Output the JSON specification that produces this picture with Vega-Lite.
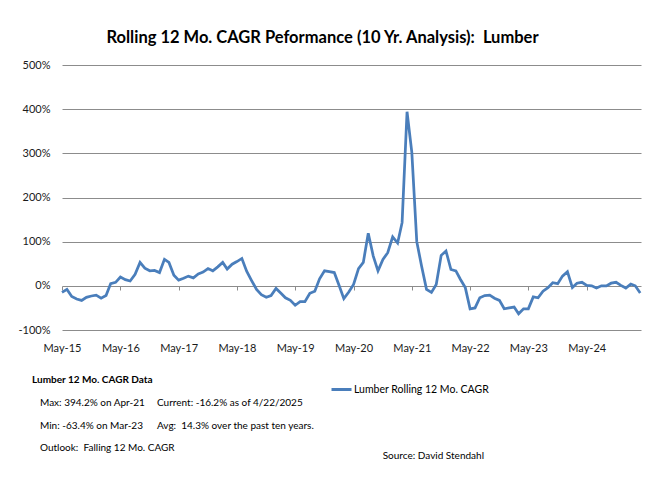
{
  "$schema": "https://vega.github.io/schema/vega-lite/v6.json",
  "autosize": {"type": "none"},
  "padding": {"left": 62, "top": 65, "right": 31, "bottom": 150},
  "width": 579,
  "height": 265,
  "background": "white",
  "title": {"text": "Rolling 12 Mo. CAGR Peformance (10 Yr. Analysis):\u00a0 Lumber", "anchor": "middle", "dx": -29, "offset": 13, "fontSize": 16.5, "font": "Lato", "fontWeight": "bold", "color": "black"},
  "datasets": {
    "cagr": [
      {"month": "2015-05-01T00:00:00", "cagr": -15, "series": "Lumber Rolling 12 Mo. CAGR"},
      {"month": "2015-06-01T00:00:00", "cagr": -8, "series": "Lumber Rolling 12 Mo. CAGR"},
      {"month": "2015-07-01T00:00:00", "cagr": -24, "series": "Lumber Rolling 12 Mo. CAGR"},
      {"month": "2015-08-01T00:00:00", "cagr": -30, "series": "Lumber Rolling 12 Mo. CAGR"},
      {"month": "2015-09-01T00:00:00", "cagr": -33, "series": "Lumber Rolling 12 Mo. CAGR"},
      {"month": "2015-10-01T00:00:00", "cagr": -26, "series": "Lumber Rolling 12 Mo. CAGR"},
      {"month": "2015-11-01T00:00:00", "cagr": -23, "series": "Lumber Rolling 12 Mo. CAGR"},
      {"month": "2015-12-01T00:00:00", "cagr": -21, "series": "Lumber Rolling 12 Mo. CAGR"},
      {"month": "2016-01-01T00:00:00", "cagr": -28, "series": "Lumber Rolling 12 Mo. CAGR"},
      {"month": "2016-02-01T00:00:00", "cagr": -22, "series": "Lumber Rolling 12 Mo. CAGR"},
      {"month": "2016-03-01T00:00:00", "cagr": 5, "series": "Lumber Rolling 12 Mo. CAGR"},
      {"month": "2016-04-01T00:00:00", "cagr": 8, "series": "Lumber Rolling 12 Mo. CAGR"},
      {"month": "2016-05-01T00:00:00", "cagr": 20, "series": "Lumber Rolling 12 Mo. CAGR"},
      {"month": "2016-06-01T00:00:00", "cagr": 14, "series": "Lumber Rolling 12 Mo. CAGR"},
      {"month": "2016-07-01T00:00:00", "cagr": 11, "series": "Lumber Rolling 12 Mo. CAGR"},
      {"month": "2016-08-01T00:00:00", "cagr": 26, "series": "Lumber Rolling 12 Mo. CAGR"},
      {"month": "2016-09-01T00:00:00", "cagr": 53, "series": "Lumber Rolling 12 Mo. CAGR"},
      {"month": "2016-10-01T00:00:00", "cagr": 40, "series": "Lumber Rolling 12 Mo. CAGR"},
      {"month": "2016-11-01T00:00:00", "cagr": 34, "series": "Lumber Rolling 12 Mo. CAGR"},
      {"month": "2016-12-01T00:00:00", "cagr": 35, "series": "Lumber Rolling 12 Mo. CAGR"},
      {"month": "2017-01-01T00:00:00", "cagr": 30, "series": "Lumber Rolling 12 Mo. CAGR"},
      {"month": "2017-02-01T00:00:00", "cagr": 60, "series": "Lumber Rolling 12 Mo. CAGR"},
      {"month": "2017-03-01T00:00:00", "cagr": 53, "series": "Lumber Rolling 12 Mo. CAGR"},
      {"month": "2017-04-01T00:00:00", "cagr": 24, "series": "Lumber Rolling 12 Mo. CAGR"},
      {"month": "2017-05-01T00:00:00", "cagr": 13, "series": "Lumber Rolling 12 Mo. CAGR"},
      {"month": "2017-06-01T00:00:00", "cagr": 17, "series": "Lumber Rolling 12 Mo. CAGR"},
      {"month": "2017-07-01T00:00:00", "cagr": 22, "series": "Lumber Rolling 12 Mo. CAGR"},
      {"month": "2017-08-01T00:00:00", "cagr": 18, "series": "Lumber Rolling 12 Mo. CAGR"},
      {"month": "2017-09-01T00:00:00", "cagr": 27, "series": "Lumber Rolling 12 Mo. CAGR"},
      {"month": "2017-10-01T00:00:00", "cagr": 31, "series": "Lumber Rolling 12 Mo. CAGR"},
      {"month": "2017-11-01T00:00:00", "cagr": 39, "series": "Lumber Rolling 12 Mo. CAGR"},
      {"month": "2017-12-01T00:00:00", "cagr": 34, "series": "Lumber Rolling 12 Mo. CAGR"},
      {"month": "2018-01-01T00:00:00", "cagr": 43, "series": "Lumber Rolling 12 Mo. CAGR"},
      {"month": "2018-02-01T00:00:00", "cagr": 53, "series": "Lumber Rolling 12 Mo. CAGR"},
      {"month": "2018-03-01T00:00:00", "cagr": 38, "series": "Lumber Rolling 12 Mo. CAGR"},
      {"month": "2018-04-01T00:00:00", "cagr": 49, "series": "Lumber Rolling 12 Mo. CAGR"},
      {"month": "2018-05-01T00:00:00", "cagr": 55, "series": "Lumber Rolling 12 Mo. CAGR"},
      {"month": "2018-06-01T00:00:00", "cagr": 62, "series": "Lumber Rolling 12 Mo. CAGR"},
      {"month": "2018-07-01T00:00:00", "cagr": 33, "series": "Lumber Rolling 12 Mo. CAGR"},
      {"month": "2018-08-01T00:00:00", "cagr": 12, "series": "Lumber Rolling 12 Mo. CAGR"},
      {"month": "2018-09-01T00:00:00", "cagr": -8, "series": "Lumber Rolling 12 Mo. CAGR"},
      {"month": "2018-10-01T00:00:00", "cagr": -20, "series": "Lumber Rolling 12 Mo. CAGR"},
      {"month": "2018-11-01T00:00:00", "cagr": -26, "series": "Lumber Rolling 12 Mo. CAGR"},
      {"month": "2018-12-01T00:00:00", "cagr": -22, "series": "Lumber Rolling 12 Mo. CAGR"},
      {"month": "2019-01-01T00:00:00", "cagr": -6, "series": "Lumber Rolling 12 Mo. CAGR"},
      {"month": "2019-02-01T00:00:00", "cagr": -17, "series": "Lumber Rolling 12 Mo. CAGR"},
      {"month": "2019-03-01T00:00:00", "cagr": -27, "series": "Lumber Rolling 12 Mo. CAGR"},
      {"month": "2019-04-01T00:00:00", "cagr": -33, "series": "Lumber Rolling 12 Mo. CAGR"},
      {"month": "2019-05-01T00:00:00", "cagr": -44, "series": "Lumber Rolling 12 Mo. CAGR"},
      {"month": "2019-06-01T00:00:00", "cagr": -36, "series": "Lumber Rolling 12 Mo. CAGR"},
      {"month": "2019-07-01T00:00:00", "cagr": -36, "series": "Lumber Rolling 12 Mo. CAGR"},
      {"month": "2019-08-01T00:00:00", "cagr": -17, "series": "Lumber Rolling 12 Mo. CAGR"},
      {"month": "2019-09-01T00:00:00", "cagr": -12, "series": "Lumber Rolling 12 Mo. CAGR"},
      {"month": "2019-10-01T00:00:00", "cagr": 16, "series": "Lumber Rolling 12 Mo. CAGR"},
      {"month": "2019-11-01T00:00:00", "cagr": 34, "series": "Lumber Rolling 12 Mo. CAGR"},
      {"month": "2019-12-01T00:00:00", "cagr": 32, "series": "Lumber Rolling 12 Mo. CAGR"},
      {"month": "2020-01-01T00:00:00", "cagr": 30, "series": "Lumber Rolling 12 Mo. CAGR"},
      {"month": "2020-02-01T00:00:00", "cagr": 0, "series": "Lumber Rolling 12 Mo. CAGR"},
      {"month": "2020-03-01T00:00:00", "cagr": -29, "series": "Lumber Rolling 12 Mo. CAGR"},
      {"month": "2020-04-01T00:00:00", "cagr": -14, "series": "Lumber Rolling 12 Mo. CAGR"},
      {"month": "2020-05-01T00:00:00", "cagr": 3, "series": "Lumber Rolling 12 Mo. CAGR"},
      {"month": "2020-06-01T00:00:00", "cagr": 39, "series": "Lumber Rolling 12 Mo. CAGR"},
      {"month": "2020-07-01T00:00:00", "cagr": 53, "series": "Lumber Rolling 12 Mo. CAGR"},
      {"month": "2020-08-01T00:00:00", "cagr": 119, "series": "Lumber Rolling 12 Mo. CAGR"},
      {"month": "2020-09-01T00:00:00", "cagr": 68, "series": "Lumber Rolling 12 Mo. CAGR"},
      {"month": "2020-10-01T00:00:00", "cagr": 34, "series": "Lumber Rolling 12 Mo. CAGR"},
      {"month": "2020-11-01T00:00:00", "cagr": 60, "series": "Lumber Rolling 12 Mo. CAGR"},
      {"month": "2020-12-01T00:00:00", "cagr": 75, "series": "Lumber Rolling 12 Mo. CAGR"},
      {"month": "2021-01-01T00:00:00", "cagr": 111, "series": "Lumber Rolling 12 Mo. CAGR"},
      {"month": "2021-02-01T00:00:00", "cagr": 97, "series": "Lumber Rolling 12 Mo. CAGR"},
      {"month": "2021-03-01T00:00:00", "cagr": 143, "series": "Lumber Rolling 12 Mo. CAGR"},
      {"month": "2021-04-01T00:00:00", "cagr": 394.2, "series": "Lumber Rolling 12 Mo. CAGR"},
      {"month": "2021-05-01T00:00:00", "cagr": 302, "series": "Lumber Rolling 12 Mo. CAGR"},
      {"month": "2021-06-01T00:00:00", "cagr": 100, "series": "Lumber Rolling 12 Mo. CAGR"},
      {"month": "2021-07-01T00:00:00", "cagr": 45, "series": "Lumber Rolling 12 Mo. CAGR"},
      {"month": "2021-08-01T00:00:00", "cagr": -8, "series": "Lumber Rolling 12 Mo. CAGR"},
      {"month": "2021-09-01T00:00:00", "cagr": -15, "series": "Lumber Rolling 12 Mo. CAGR"},
      {"month": "2021-10-01T00:00:00", "cagr": 3, "series": "Lumber Rolling 12 Mo. CAGR"},
      {"month": "2021-11-01T00:00:00", "cagr": 69, "series": "Lumber Rolling 12 Mo. CAGR"},
      {"month": "2021-12-01T00:00:00", "cagr": 79, "series": "Lumber Rolling 12 Mo. CAGR"},
      {"month": "2022-01-01T00:00:00", "cagr": 37, "series": "Lumber Rolling 12 Mo. CAGR"},
      {"month": "2022-02-01T00:00:00", "cagr": 34, "series": "Lumber Rolling 12 Mo. CAGR"},
      {"month": "2022-03-01T00:00:00", "cagr": 15, "series": "Lumber Rolling 12 Mo. CAGR"},
      {"month": "2022-04-01T00:00:00", "cagr": -4, "series": "Lumber Rolling 12 Mo. CAGR"},
      {"month": "2022-05-01T00:00:00", "cagr": -52, "series": "Lumber Rolling 12 Mo. CAGR"},
      {"month": "2022-06-01T00:00:00", "cagr": -50, "series": "Lumber Rolling 12 Mo. CAGR"},
      {"month": "2022-07-01T00:00:00", "cagr": -27, "series": "Lumber Rolling 12 Mo. CAGR"},
      {"month": "2022-08-01T00:00:00", "cagr": -22, "series": "Lumber Rolling 12 Mo. CAGR"},
      {"month": "2022-09-01T00:00:00", "cagr": -21, "series": "Lumber Rolling 12 Mo. CAGR"},
      {"month": "2022-10-01T00:00:00", "cagr": -28, "series": "Lumber Rolling 12 Mo. CAGR"},
      {"month": "2022-11-01T00:00:00", "cagr": -33, "series": "Lumber Rolling 12 Mo. CAGR"},
      {"month": "2022-12-01T00:00:00", "cagr": -52, "series": "Lumber Rolling 12 Mo. CAGR"},
      {"month": "2023-01-01T00:00:00", "cagr": -50, "series": "Lumber Rolling 12 Mo. CAGR"},
      {"month": "2023-02-01T00:00:00", "cagr": -48, "series": "Lumber Rolling 12 Mo. CAGR"},
      {"month": "2023-03-01T00:00:00", "cagr": -63.4, "series": "Lumber Rolling 12 Mo. CAGR"},
      {"month": "2023-04-01T00:00:00", "cagr": -52, "series": "Lumber Rolling 12 Mo. CAGR"},
      {"month": "2023-05-01T00:00:00", "cagr": -52, "series": "Lumber Rolling 12 Mo. CAGR"},
      {"month": "2023-06-01T00:00:00", "cagr": -25, "series": "Lumber Rolling 12 Mo. CAGR"},
      {"month": "2023-07-01T00:00:00", "cagr": -27, "series": "Lumber Rolling 12 Mo. CAGR"},
      {"month": "2023-08-01T00:00:00", "cagr": -12, "series": "Lumber Rolling 12 Mo. CAGR"},
      {"month": "2023-09-01T00:00:00", "cagr": -4, "series": "Lumber Rolling 12 Mo. CAGR"},
      {"month": "2023-10-01T00:00:00", "cagr": 7, "series": "Lumber Rolling 12 Mo. CAGR"},
      {"month": "2023-11-01T00:00:00", "cagr": 5, "series": "Lumber Rolling 12 Mo. CAGR"},
      {"month": "2023-12-01T00:00:00", "cagr": 22, "series": "Lumber Rolling 12 Mo. CAGR"},
      {"month": "2024-01-01T00:00:00", "cagr": 32, "series": "Lumber Rolling 12 Mo. CAGR"},
      {"month": "2024-02-01T00:00:00", "cagr": -4, "series": "Lumber Rolling 12 Mo. CAGR"},
      {"month": "2024-03-01T00:00:00", "cagr": 6, "series": "Lumber Rolling 12 Mo. CAGR"},
      {"month": "2024-04-01T00:00:00", "cagr": 8, "series": "Lumber Rolling 12 Mo. CAGR"},
      {"month": "2024-05-01T00:00:00", "cagr": 1, "series": "Lumber Rolling 12 Mo. CAGR"},
      {"month": "2024-06-01T00:00:00", "cagr": 0, "series": "Lumber Rolling 12 Mo. CAGR"},
      {"month": "2024-07-01T00:00:00", "cagr": -5, "series": "Lumber Rolling 12 Mo. CAGR"},
      {"month": "2024-08-01T00:00:00", "cagr": 0, "series": "Lumber Rolling 12 Mo. CAGR"},
      {"month": "2024-09-01T00:00:00", "cagr": 0, "series": "Lumber Rolling 12 Mo. CAGR"},
      {"month": "2024-10-01T00:00:00", "cagr": 6, "series": "Lumber Rolling 12 Mo. CAGR"},
      {"month": "2024-11-01T00:00:00", "cagr": 8, "series": "Lumber Rolling 12 Mo. CAGR"},
      {"month": "2024-12-01T00:00:00", "cagr": 1, "series": "Lumber Rolling 12 Mo. CAGR"},
      {"month": "2025-01-01T00:00:00", "cagr": -5, "series": "Lumber Rolling 12 Mo. CAGR"},
      {"month": "2025-02-01T00:00:00", "cagr": 4, "series": "Lumber Rolling 12 Mo. CAGR"},
      {"month": "2025-03-01T00:00:00", "cagr": 0, "series": "Lumber Rolling 12 Mo. CAGR"},
      {"month": "2025-04-01T00:00:00", "cagr": -16.2, "series": "Lumber Rolling 12 Mo. CAGR"}
    ],
    "notes": [
      {"line": "0", "column": "A", "part": "heading", "label": "Lumber 12 Mo. CAGR Data"},
      {"line": "1", "column": "A", "part": "body", "label": "Max: 394.2% on Apr-21"},
      {"line": "1", "column": "B", "part": "body", "label": "Current: -16.2% as of 4/22/2025"},
      {"line": "2", "column": "A", "part": "body", "label": "Min: -63.4% on Mar-23"},
      {"line": "2", "column": "B", "part": "body", "label": "Avg:\u00a0 14.3% over the past ten years."},
      {"line": "3", "column": "A", "part": "body", "label": "Outlook:\u00a0 Falling 12 Mo. CAGR"},
      {"line": "3", "column": "C", "part": "source", "label": "Source: David Stendahl"}
    ]
  },
  "layer": [
    {
      "data": {"name": "cagr"},
      "mark": {"type": "line", "strokeWidth": 2.75},
      "encoding": {
        "x": {"field": "month", "type": "temporal",
          "scale": {"domain": [{"year": 2015, "month": 5, "date": 1}, {"year": 2025, "month": 4, "date": 6}]},
          "axis": {"values": [{"year": 2015, "month": 5, "date": 1}, {"year": 2016, "month": 5, "date": 1}, {"year": 2017, "month": 5, "date": 1}, {"year": 2018, "month": 5, "date": 1}, {"year": 2019, "month": 5, "date": 1}, {"year": 2020, "month": 5, "date": 1}, {"year": 2021, "month": 5, "date": 1}, {"year": 2022, "month": 5, "date": 1}, {"year": 2023, "month": 5, "date": 1}, {"year": 2024, "month": 5, "date": 1}],
            "format": "%b-%y", "grid": false, "domain": false, "ticks": false, "labelPadding": 12, "labelFlush": false, "labelOverlap": false, "title": null}},
        "y": {"field": "cagr", "type": "quantitative",
          "scale": {"domain": [-100, 500], "nice": false, "zero": false},
          "axis": {"values": [-100, 0, 100, 200, 300, 400, 500], "labelExpr": "datum.value + '%'", "grid": true, "gridColor": "#8c8c8c", "gridWidth": 1, "domain": false, "ticks": false, "labelPadding": 12, "title": null}},
        "color": {"field": "series", "type": "nominal", "scale": {"range": ["#4a7ebb"]},
          "legend": {"orient": "none", "legendX": 268, "legendY": 313, "title": null, "symbolType": "stroke", "symbolSize": 400, "symbolStrokeWidth": 3, "labelFontSize": 10.5, "labelColor": "black", "labelOffset": 1}}
      }
    },
    {
      "data": {"name": "cagr"},
      "mark": {"type": "line", "opacity": 0},
      "encoding": {
        "x": {"field": "month", "type": "temporal",
          "scale": {"domain": [{"year": 2015, "month": 5, "date": 1}, {"year": 2025, "month": 4, "date": 6}]},
          "axis": {"orient": "bottom", "offset": -44, "values": [{"year": 2015, "month": 5, "date": 1}, {"year": 2016, "month": 5, "date": 1}, {"year": 2017, "month": 5, "date": 1}, {"year": 2018, "month": 5, "date": 1}, {"year": 2019, "month": 5, "date": 1}, {"year": 2020, "month": 5, "date": 1}, {"year": 2021, "month": 5, "date": 1}, {"year": 2022, "month": 5, "date": 1}, {"year": 2023, "month": 5, "date": 1}, {"year": 2024, "month": 5, "date": 1}],
            "labels": false, "grid": false, "domain": false, "ticks": true, "tickSize": 4, "tickColor": "#8c8c8c", "title": null}},
        "y": {"field": "cagr", "type": "quantitative", "scale": {"domain": [-100, 500], "nice": false, "zero": false}, "axis": null}
      }
    },
    {
      "data": {"name": "notes"},
      "transform": [{"filter": "datum.part === 'heading'"}],
      "mark": {"type": "text", "align": "left", "baseline": "middle", "fontWeight": "bold", "fontSize": 10, "color": "black", "dx": -8},
      "encoding": {
        "x": {"field": "column", "type": "nominal", "scale": {"type": "point", "padding": 0, "domain": ["A", "B"], "range": [-22, 95]}, "axis": null},
        "y": {"field": "line", "type": "nominal", "scale": {"type": "point", "padding": 0, "domain": ["0", "1", "2", "3"], "range": [315, 382]}, "axis": null},
        "text": {"field": "label"}
      }
    },
    {
      "data": {"name": "notes"},
      "transform": [{"filter": "datum.part === 'body'"}],
      "mark": {"type": "text", "align": "left", "baseline": "middle", "fontSize": 10, "color": "black", "dy": 1},
      "encoding": {
        "x": {"field": "column", "type": "nominal", "scale": {"type": "point", "padding": 0, "domain": ["A", "B"], "range": [-22, 95]}, "axis": null},
        "y": {"field": "line", "type": "nominal", "scale": {"type": "point", "padding": 0, "domain": ["0", "1", "2", "3"], "range": [315, 382]}, "axis": null},
        "text": {"field": "label"}
      }
    },
    {
      "data": {"name": "notes"},
      "transform": [{"filter": "datum.part === 'source'"}],
      "mark": {"type": "text", "align": "right", "baseline": "middle", "fontSize": 10, "color": "black", "dy": 9},
      "encoding": {
        "x": {"field": "column", "type": "nominal", "scale": {"type": "point", "padding": 0, "domain": ["A", "C"], "range": [-22, 422]}, "axis": null},
        "y": {"field": "line", "type": "nominal", "scale": {"type": "point", "padding": 0, "domain": ["0", "1", "2", "3"], "range": [315, 382]}, "axis": null},
        "text": {"field": "label"}
      }
    }
  ],
  "resolve": {"scale": {"x": "independent", "y": "independent"}},
  "config": {
    "view": {"stroke": null},
    "font": "Lato",
    "text": {"font": "Lato"},
    "axis": {"labelFont": "Lato", "labelFontSize": 11, "labelColor": "#1a1a1a"},
    "legend": {"labelFont": "Lato"}
  }
}
